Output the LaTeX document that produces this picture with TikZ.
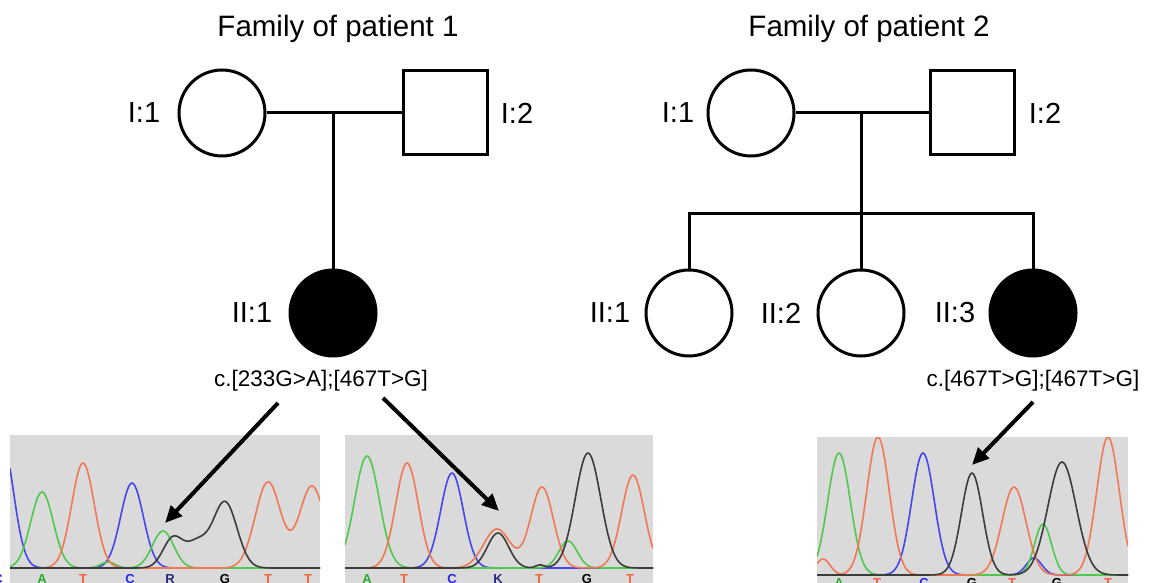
\documentclass[tikz,border=0pt]{standalone}
\usepackage{fontspec}
\setmainfont{Liberation Sans}
\usetikzlibrary{arrows.meta}
\definecolor{gbox}{RGB}{218,218,218}
\definecolor{tgreen}{RGB}{80,200,80}
\definecolor{torange}{RGB}{240,120,85}
\definecolor{tblue}{RGB}{70,70,235}
\definecolor{tblack}{RGB}{60,60,60}
\definecolor{lgreen}{RGB}{40,170,40}
\definecolor{lorange}{RGB}{240,100,60}
\definecolor{lblue}{RGB}{40,40,230}
\definecolor{lnavy}{RGB}{40,40,120}
\tikzset{
  titletext/.style={font=\fontsize{29.5}{33}\selectfont, inner sep=0},
  lbl/.style={font=\fontsize{29}{33}\selectfont, inner sep=0},
  geno/.style={font=\fontsize{22.5}{26}\selectfont, inner sep=0},
  pedline/.style={line width=3pt},
  female/.style={circle, draw, line width=3pt, minimum size=86pt, inner sep=0},
  male/.style={rectangle, draw, line width=3pt, minimum size=84pt, inner sep=0},
  affected/.style={fill=black},
  pointer/.style={line width=4pt, -{Triangle[length=17pt,width=15pt]}},
  trace/.style={line width=1.6pt},
  base/.style={font=\fontsize{13}{13}\selectfont\bfseries, inner sep=0, anchor=base},
  declare function={g(\pa,\pb,\pc,\pd)=\pc*exp(-min(((\pa-\pb)/\pd)^2,20));}
}
\begin{document}
\begin{tikzpicture}[x=1pt,y=-1pt]
\useasboundingbox[fill=white] (0,0) rectangle (1149,583);

% titles
\node[titletext] (t1) at (338,29) {Family of patient 1};
\node[titletext] (t2) at (869,29) {Family of patient 2};

% family 1
\node[female] (f1I1) at (222,113) {};
\node[male] (f1I2) at (445,113) {};
\node[female, affected] (f1II1) at (333,313) {};
\coordinate (m1) at (333,113);
\draw[pedline] (f1I1) -- (f1I2);
\draw[pedline] (m1) -- (f1II1);
\node[lbl] (l1a) at (144,113) {I:1};
\node[lbl] (l1b) at (517,113) {I:2};
\node[lbl] (l1c) at (252,313) {II:1};
\node[geno] (g1) at (321,381) {c.[233G>A];[467T>G]};

% family 2
\node[female] (f2I1) at (751,113) {};
\node[male] (f2I2) at (972,113) {};
\node[female] (f2II1) at (689,313) {};
\node[female] (f2II2) at (861,313) {};
\node[female, affected] (f2II3) at (1033,313) {};
\coordinate (m2) at (861,113);
\coordinate (s2) at (861,213);
\draw[pedline] (f2I1) -- (f2I2);
\draw[pedline] (m2) -- (s2);
\draw[pedline, line join=miter] (f2II1) |- (s2) -| (f2II3);
\draw[pedline] (s2) -- (f2II2);
\node[lbl] (l2a) at (678,113) {I:1};
\node[lbl] (l2b) at (1045,113) {I:2};
\node[lbl] (l2c) at (610,313) {II:1};
\node[lbl] (l2d) at (781,313) {II:2};
\node[lbl] (l2e) at (955,313) {II:3};
\node[geno] (g2) at (1033,381) {c.[467T>G];[467T>G]};

% chromatogram 1
\begin{scope}
\clip (10,435) rectangle (320,600);
\fill[gbox] (10,435) rectangle (320,600);
\draw[trace, tblue] plot[domain=10:320, samples=180] (\x,{568-g(\x,2,128,16)-g(\x,132,85,16)});
\draw[trace, tgreen] plot[domain=10:320, samples=180] (\x,{568-g(\x,42,76,16)-g(\x,108,6,10)-g(\x,163,37,15)});
\draw[trace, torange] plot[domain=10:320, samples=180] (\x,{568-g(\x,83,105,16)-g(\x,268,86,18)-g(\x,312,82,18)});
\draw[trace, tblack] plot[domain=10:320, samples=180] (\x,{568-g(\x,173,30,14)-g(\x,197,24,15)-g(\x,225,66,17)});
\end{scope}
\node[base, lblue] (b1a) at (-2,583) {C};
\node[base, lgreen] (b1b) at (42,583) {A};
\node[base, lorange] (b1c) at (83,583) {T};
\node[base, lblue] (b1d) at (130,583) {C};
\node[base, lnavy] (b1e) at (170,583) {R};
\node[base, black] (b1f) at (225,583) {G};
\node[base, lorange] (b1g) at (268,583) {T};
\node[base, lorange] (b1h) at (308,583) {T};

% chromatogram 2
\begin{scope}
\clip (345,435) rectangle (653,600);
\fill[gbox] (345,435) rectangle (653,600);
\draw[trace, tblue] plot[domain=345:653, samples=180] (\x,{568-g(\x,452,95,16)});
\draw[trace, tgreen] plot[domain=345:653, samples=180] (\x,{568-g(\x,367,112,17.5)-g(\x,568,27,13)});
\draw[trace, torange] plot[domain=345:653, samples=180] (\x,{568-g(\x,407,105,16)-g(\x,497,39,19)-g(\x,542,81,16)-g(\x,633,93,16)});
\draw[trace, tblack] plot[domain=345:653, samples=180] (\x,{568-g(\x,498,35,15)-g(\x,540,3,6)-g(\x,588,115,18)});
\end{scope}
\node[base, lgreen] (b2a) at (367,583) {A};
\node[base, lorange] (b2b) at (404,583) {T};
\node[base, lblue] (b2c) at (452,583) {C};
\node[base, lnavy] (b2d) at (498,583) {K};
\node[base, lorange] (b2e) at (539,583) {T};
\node[base, black] (b2f) at (587,583) {G};
\node[base, lorange] (b2g) at (630,583) {T};

% chromatogram 3
\begin{scope}
\clip (817,437) rectangle (1128,600);
\fill[gbox] (817,437) rectangle (1128,600);
\draw[trace, tblue] plot[domain=817:1128, samples=180] (\x,{575-g(\x,923,122,16)-g(\x,1034,17,11)});
\draw[trace, tgreen] plot[domain=817:1128, samples=180] (\x,{575-g(\x,839,122,16)-g(\x,1043,51,12)});
\draw[trace, torange] plot[domain=817:1128, samples=180] (\x,{575-g(\x,823,16,10)-g(\x,878,138,16)-g(\x,1014,88,17)-g(\x,1108,138,16)});
\draw[trace, tblack] plot[domain=817:1128, samples=180] (\x,{575-g(\x,972,102,15)-g(\x,1062,113,20)});
\end{scope}
\node[base, lgreen] (b3a) at (839,587) {A};
\node[base, lorange] (b3b) at (877,587) {T};
\node[base, lblue] (b3c) at (924,587) {C};
\node[base, black] (b3d) at (972,587) {G};
\node[base, lorange] (b3e) at (1012,587) {T};
\node[base, black] (b3f) at (1057,587) {G};
\node[base, lorange] (b3g) at (1108,587) {T};

% arrows
\coordinate (a1s) at (278,403);
\coordinate (a1e) at (165,523);
\coordinate (a2s) at (383,398);
\coordinate (a2e) at (499,511);
\coordinate (a3s) at (1033,402);
\coordinate (a3e) at (972,465);
\draw[pointer] (a1s) -- (a1e);
\draw[pointer] (a2s) -- (a2e);
\draw[pointer] (a3s) -- (a3e);
\end{tikzpicture}
\end{document}
